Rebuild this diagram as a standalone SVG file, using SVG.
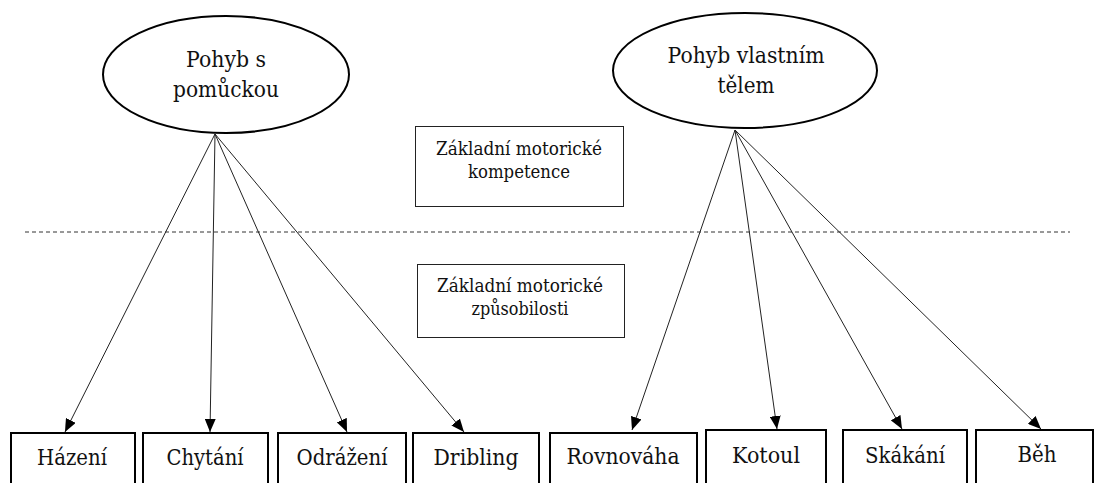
<svg xmlns="http://www.w3.org/2000/svg" width="1094" height="483" viewBox="0 0 1094 483">
<style>
text{fill:#111;text-anchor:middle;font-family:'DejaVu Serif',serif}
.s1{font-size:19px}
.s2{font-size:22.5px}
.ell{fill:#fff;stroke:#000;stroke-width:2}
.box{fill:#fff;stroke:#000;stroke-width:2}
.mid{fill:#fff;stroke:#222;stroke-width:1}
.con line{stroke:#222;stroke-width:1;marker-end:url(#ah)}
</style>
<defs>
<marker id="ah" markerUnits="userSpaceOnUse" markerWidth="13" markerHeight="11" viewBox="0 0 13 11" refX="13" refY="5.5" orient="auto">
<path d="M0,0 L13,5.5 L0,11 z" fill="#000"/>
</marker>
</defs>
<line x1="25" y1="232" x2="1070" y2="232" stroke="#333" stroke-width="1" stroke-dasharray="4,3"/>
<g id="mid-top">
<rect class="mid" x="415.5" y="126.5" width="208" height="80"/>
<text class="s1" x="519" y="155" textLength="166" lengthAdjust="spacingAndGlyphs">Základní motorické</text>
<text class="s1" x="519" y="178" textLength="102" lengthAdjust="spacingAndGlyphs">kompetence</text>
</g>
<g id="mid-bottom">
<rect class="mid" x="417.5" y="264.5" width="207" height="73"/>
<text class="s1" x="520" y="292" textLength="166" lengthAdjust="spacingAndGlyphs">Základní motorické</text>
<text class="s1" x="520" y="315" textLength="97" lengthAdjust="spacingAndGlyphs">způsobilosti</text>
</g>
<g id="n-pomucka">
<ellipse class="ell" cx="226" cy="74.5" rx="123" ry="58.5"/>
<text class="s2" x="226" y="67" textLength="80" lengthAdjust="spacingAndGlyphs">Pohyb s</text>
<text class="s2" x="226" y="97" textLength="106" lengthAdjust="spacingAndGlyphs">pomůckou</text>
</g>
<g id="n-telo">
<ellipse class="ell" cx="745" cy="70.5" rx="132" ry="57.5"/>
<text class="s2" x="746" y="63" textLength="157" lengthAdjust="spacingAndGlyphs">Pohyb vlastním</text>
<text class="s2" x="746" y="93" textLength="57" lengthAdjust="spacingAndGlyphs">tělem</text>
</g>
<g class="con" id="connectors">
<line x1="215" y1="134" x2="65" y2="432"/>
<line x1="215" y1="134" x2="210" y2="432"/>
<line x1="215" y1="134" x2="347" y2="432"/>
<line x1="215" y1="134" x2="464" y2="432"/>
<line x1="735" y1="130" x2="632" y2="430"/>
<line x1="735" y1="130" x2="777" y2="429"/>
<line x1="735" y1="130" x2="902" y2="429"/>
<line x1="735" y1="130" x2="1041" y2="429"/>
</g>
<g id="b-hazeni"><rect class="box" x="11" y="433" width="124" height="60"/><text class="s2" x="72" y="465" textLength="70" lengthAdjust="spacingAndGlyphs">Házení</text></g>
<g id="b-chytani"><rect class="box" x="143" y="433" width="125" height="60"/><text class="s2" x="205" y="465" textLength="77" lengthAdjust="spacingAndGlyphs">Chytání</text></g>
<g id="b-odrazeni"><rect class="box" x="278" y="433" width="128" height="60"/><text class="s2" x="342" y="465" textLength="91" lengthAdjust="spacingAndGlyphs">Odrážení</text></g>
<g id="b-dribling"><rect class="box" x="413" y="433" width="126" height="60"/><text class="s2" x="476" y="465" textLength="85" lengthAdjust="spacingAndGlyphs">Dribling</text></g>
<g id="b-rovnovaha"><rect class="box" x="550" y="433" width="147" height="60"/><text class="s2" x="623" y="464" textLength="113" lengthAdjust="spacingAndGlyphs">Rovnováha</text></g>
<g id="b-kotoul"><rect class="box" x="706" y="430" width="120" height="60"/><text class="s2" x="766" y="463" textLength="68" lengthAdjust="spacingAndGlyphs">Kotoul</text></g>
<g id="b-skakani"><rect class="box" x="843" y="430" width="124" height="60"/><text class="s2" x="905" y="463" textLength="80" lengthAdjust="spacingAndGlyphs">Skákání</text></g>
<g id="b-beh"><rect class="box" x="976" y="430" width="117" height="60"/><text class="s2" x="1037" y="462" textLength="39" lengthAdjust="spacingAndGlyphs">Běh</text></g>
</svg>
